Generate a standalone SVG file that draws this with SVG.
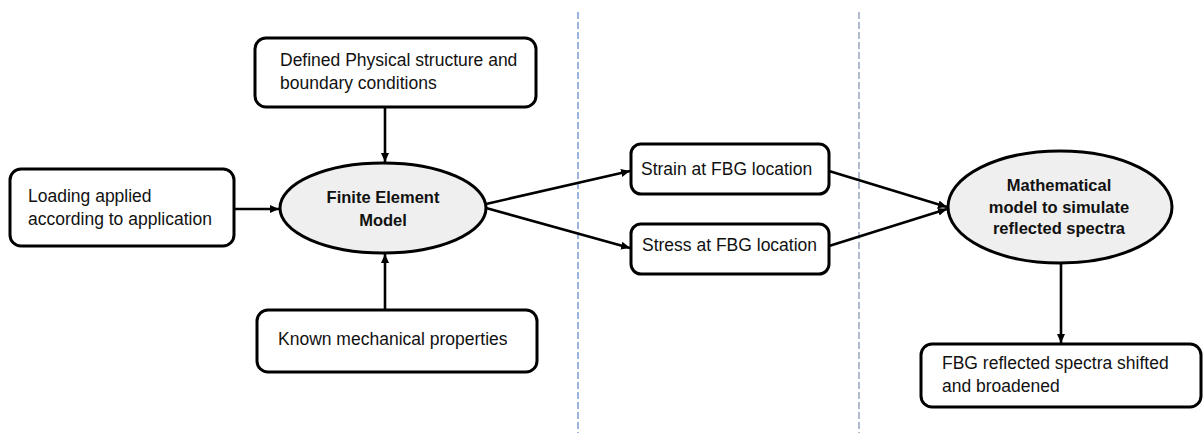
<svg xmlns="http://www.w3.org/2000/svg" width="1203" height="433" viewBox="0 0 1203 433">
  <style>
    .box { fill: #ffffff; stroke: #000000; stroke-width: 3; }
    .oval { fill: #efefef; stroke: #000000; stroke-width: 3; }
    .lbl { font-family: "Liberation Sans", Arial, sans-serif; font-size: 17.5px; fill: #111111; }
    .bold { font-family: "Liberation Sans", Arial, sans-serif; font-size: 16.5px; font-weight: bold; fill: #111111; text-anchor: middle; }
    .edge { stroke: #000000; stroke-width: 2.6; fill: none; marker-end: url(#arrow); }
    .sep { stroke-width: 1.2; stroke-dasharray: 7 3; fill: none; }
  </style>
  <defs>
    <marker id="arrow" markerUnits="userSpaceOnUse" markerWidth="10" markerHeight="9" refX="9" refY="4" orient="auto">
      <path d="M0,0 L9,4 L0,8 z" fill="#000000"/>
    </marker>
  </defs>
  <rect width="1203" height="433" fill="#ffffff"/>

  <!-- stage separators -->
  <g id="separators">
    <line class="sep" x1="578" y1="12" x2="578" y2="433" stroke="#5b82c8"/>
    <line class="sep" x1="859" y1="12" x2="859" y2="433" stroke="#7f8fae"/>
  </g>

  <!-- connectors -->
  <g id="connectors">
    <line class="edge" x1="385" y1="107" x2="385" y2="162"/>
    <line class="edge" x1="235" y1="209" x2="279" y2="209"/>
    <line class="edge" x1="385" y1="310" x2="385" y2="254"/>
    <line class="edge" x1="486" y1="204" x2="630" y2="171"/>
    <line class="edge" x1="486" y1="208" x2="630" y2="248"/>
    <line class="edge" x1="829" y1="171" x2="947" y2="207"/>
    <line class="edge" x1="829" y1="246" x2="947" y2="209"/>
    <line class="edge" x1="1061" y1="264" x2="1061" y2="343"/>
  </g>

  <g id="node-structure">
    <rect class="box" x="255" y="38" width="281" height="69" rx="11"/>
    <text class="lbl" x="280" y="66">Defined Physical structure and</text>
    <text class="lbl" x="280" y="89">boundary conditions</text>
  </g>

  <g id="node-loading">
    <rect class="box" x="10" y="169" width="224" height="77" rx="11"/>
    <text class="lbl" x="28" y="202">Loading applied</text>
    <text class="lbl" x="28" y="225">according to application</text>
  </g>

  <g id="node-fem">
    <ellipse class="oval" cx="383" cy="208" rx="103" ry="45"/>
    <text class="bold" x="383" y="203">Finite Element</text>
    <text class="bold" x="383" y="226">Model</text>
  </g>

  <g id="node-properties">
    <rect class="box" x="257" y="310" width="280" height="62" rx="11"/>
    <text class="lbl" x="278" y="345">Known mechanical properties</text>
  </g>

  <g id="node-strain">
    <rect class="box" x="631" y="144" width="198" height="50" rx="10"/>
    <text class="lbl" x="641" y="175">Strain at FBG location</text>
  </g>

  <g id="node-stress">
    <rect class="box" x="631" y="224" width="198" height="50" rx="10"/>
    <text class="lbl" x="642" y="251">Stress at FBG location</text>
  </g>

  <g id="node-math">
    <ellipse class="oval" cx="1060" cy="207" rx="112" ry="56"/>
    <text class="bold" x="1059" y="191">Mathematical</text>
    <text class="bold" x="1059" y="213">model to simulate</text>
    <text class="bold" x="1059" y="234">reflected spectra</text>
  </g>

  <g id="node-spectra">
    <rect class="box" x="921" y="344" width="280" height="63" rx="11"/>
    <text class="lbl" x="942" y="369">FBG reflected spectra shifted</text>
    <text class="lbl" x="942" y="392">and broadened</text>
  </g>
</svg>
